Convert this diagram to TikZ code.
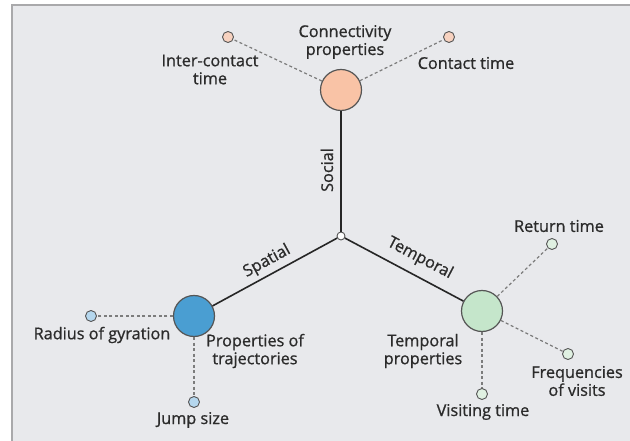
\documentclass[tikz,border=0pt]{standalone}
\usepackage{fontspec}
\setmainfont{Open Sans}[BoldFont=Open Sans, BoldFeatures={FakeBold=0.9}]
\definecolor{bgc}{HTML}{E8E9EC}
\definecolor{framec}{HTML}{A9A9AB}
\definecolor{socf}{HTML}{F9C3A6}
\definecolor{socs}{HTML}{F7D2C0}
\definecolor{spaf}{HTML}{4A9ED2}
\definecolor{spas}{HTML}{B5D7EE}
\definecolor{temf}{HTML}{C5E6CB}
\definecolor{tems}{HTML}{E0F1E2}
\definecolor{edgec}{HTML}{555555}
\definecolor{dashc}{HTML}{7C7C7C}
\definecolor{textc}{HTML}{2B2B2B}
\begin{document}
\begin{tikzpicture}[x=1bp,y=-1bp,
  txt/.style={font=\fontsize{16.3}{18}\selectfont\bfseries, text=textc, align=center, inner sep=0pt},
  lbl/.style={font=\fontsize{16.3}{18}\selectfont\bfseries, text=textc, inner sep=0pt, anchor=base},
  big/.style={circle, draw=edgec, line width=1.2bp, minimum size=41bp, inner sep=0pt},
  small/.style={circle, draw=edgec, line width=0.9bp, minimum size=11bp, inner sep=0pt},
  dashlink/.style={draw=dashc, line width=1.2bp, dash pattern=on 3bp off 2.5bp},
  axisline/.style={draw=black!85, line width=1.6bp}]
\useasboundingbox (0,0) rectangle (630,441);
\fill[white] (0,0) rectangle (630,441);
\fill[bgc] (12,5) rectangle (630,441);
\draw[framec, line width=2bp] (12,441) -- (12,5) -- (630,5);

% main circles
\node[big, fill=socf] (soc) at (341,90) {};
\node[big, fill=spaf] (spa) at (194,316) {};
\node[big, fill=temf] (tem) at (482,311) {};

% small circles
\node[small, fill=socs] (ic) at (228,37) {};
\node[small, fill=socs] (ct) at (449,37) {};
\node[small, fill=spas] (rg) at (91,316) {};
\node[small, fill=spas] (js) at (194,402) {};
\node[small, fill=tems] (rt) at (552,244) {};
\node[small, fill=tems] (fv) at (568,354) {};
\node[small, fill=tems] (vt) at (482,394) {};

% junction
\node[circle, draw=edgec, fill=white, line width=0.9bp, minimum size=8bp, inner sep=0pt] (ctr) at (341,236) {};

% axes
\draw[axisline] (ctr) -- (soc);
\draw[axisline] (ctr) -- (spa);
\draw[axisline] (ctr) -- (tem);

% dashed links
\draw[dashlink] (soc) -- (ic);
\draw[dashlink] (soc) -- (ct);
\draw[dashlink] (spa) -- (rg);
\draw[dashlink] (spa) -- (js);
\draw[dashlink] (tem) -- (rt);
\draw[dashlink] (tem) -- (fv);
\draw[dashlink] (tem) -- (vt);

% axis labels
\node[lbl, rotate=90] (lsoc) at (333,170) {Social};
\node[lbl, rotate=28.6] (lspa) at (269,265) {Spatial};
\node[lbl, rotate=-27.7] (ltem) at (418,262) {Temporal};

% texts
\node[txt] (tconn) at (345,42) {Connectivity\\properties};
\node[txt] (tic) at (210,69.5) {Inter-contact\\time};
\node[txt] (tct) at (466,63) {Contact time};
\node[txt] (trg) at (102,335) {Radius of gyration};
\node[txt] (ttraj) at (255,351) {Properties of\\trajectories};
\node[txt] (tjs) at (193,420) {Jump size};
\node[txt] (trt) at (559,226) {Return time};
\node[txt] (ttemp) at (423,351) {Temporal\\properties};
\node[txt] (tfv) at (577,381) {Frequencies\\of visits};
\node[txt] (tvt) at (483,412) {Visiting time};
\end{tikzpicture}
\end{document}
